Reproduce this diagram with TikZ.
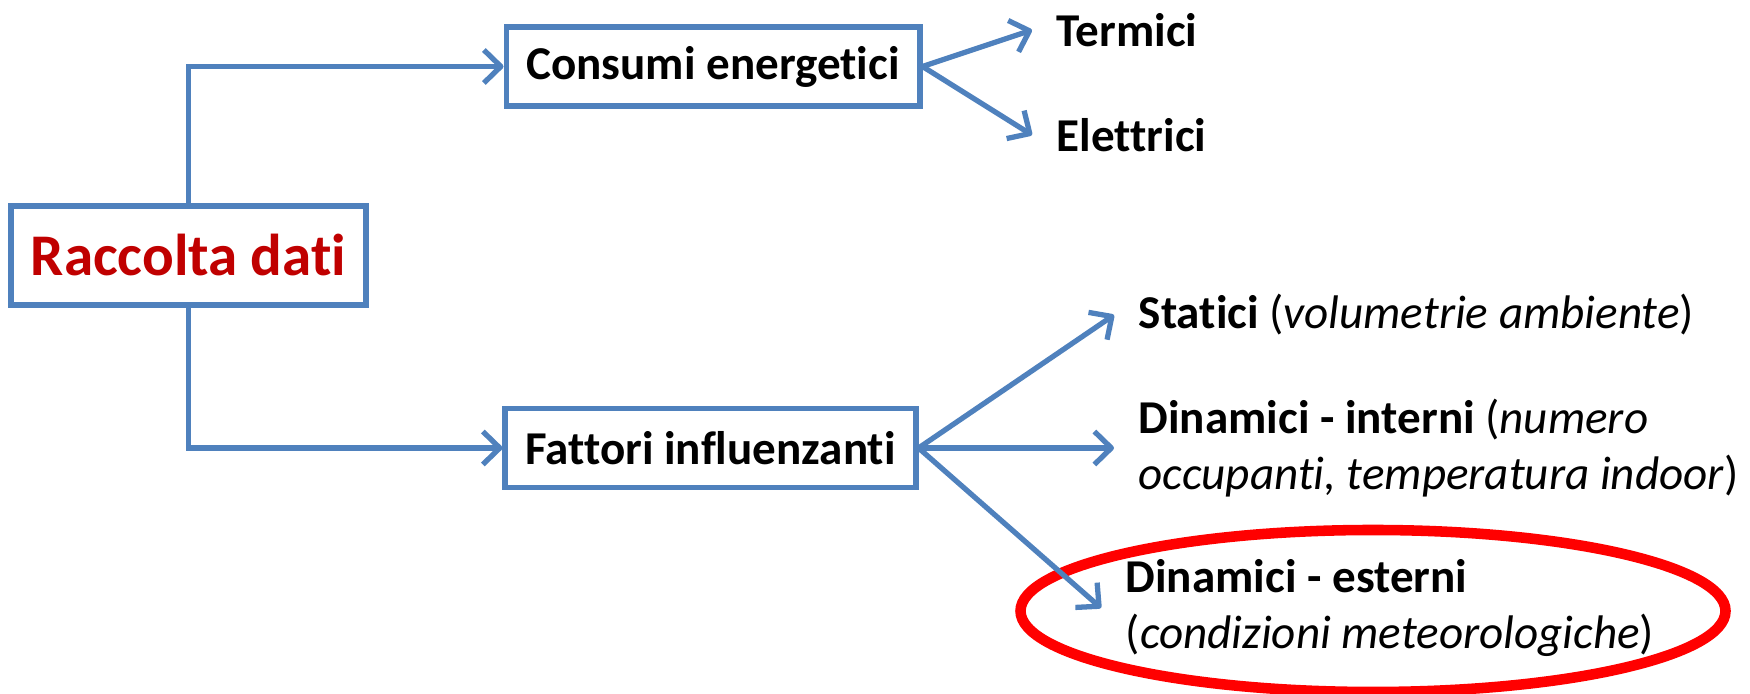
\documentclass[tikz,border=0pt]{standalone}
\usepackage{fontspec}
\setmainfont{Carlito}[Ligatures=NoCommon]
\usepackage{tikz}
\usetikzlibrary{shapes.geometric, arrows.meta, positioning}
\definecolor{linkblue}{RGB}{79,129,189}
\definecolor{titlered}{RGB}{192,0,0}
\definecolor{ringred}{RGB}{255,0,0}

\begin{document}
\begin{tikzpicture}[
    databox/.style={draw=linkblue, line width=1.6pt, fill=white, inner xsep=0.2cm, minimum height=0.99cm, font=\fontsize{16.8}{20}\selectfont\bfseries, text=titlered},
    catbox/.style={draw=linkblue, line width=1.6pt, fill=white, inner xsep=0.2cm, minimum height=0.79cm, font=\fontsize{13.4}{16}\selectfont\bfseries},
    item/.style={anchor=west, inner xsep=0.24cm, align=left, font=\fontsize{13.4}{16}\selectfont},
    link/.style={draw=linkblue, line width=1.5pt},
    arrow/.style={link, -{Straight Barb[length=1.7mm, width=3.3mm, line join=round]}}
]
    \useasboundingbox (0,0) rectangle (17.5,6.94);

    % main boxes
    \node[databox] (racc) at (1.885,4.385) {Raccolta dati};
    \node[catbox] (cons) at (7.13,6.275) {Consumi energetici};
    \node[catbox] (fatt) at (7.105,2.46) {Fattori influenzanti};

    % consumption types
    \node[item, font=\fontsize{13.4}{16}\selectfont\bfseries] (term) at (10.32,6.64) {Termici};
    \node[item, font=\fontsize{13.4}{16}\selectfont\bfseries] (elet) at (10.32,5.59) {Elettrici};

    % factors
    \node[item] (stat) at (11.14,3.79) {\textbf{Statici} (\textit{volumetrie ambiente})};
    \node[item] (dint) at (11.14,2.46) {\textbf{Dinamici - interni} (\textit{numero}\\\textit{occupanti, temperatura indoor})};
    \node[ellipse, draw=ringred, line width=3pt, minimum width=7.05cm, minimum height=1.62cm] (ring) at (13.73,0.83) {};
    \node[item] (dest) at (11.01,0.86) {\textbf{Dinamici - esterni}\\(\textit{condizioni meteorologiche})};

    % connections
    \draw[arrow] (racc.north) |- (cons.west);
    \draw[arrow] (racc.south) |- (fatt.west);

    \draw[arrow] (cons.east) -- (term.west);
    \draw[arrow] (cons.east) -- (elet.west);

    \draw[arrow] (fatt.east) -- (stat.west);
    \draw[arrow] (fatt.east) -- (dint.west);
    \draw[arrow] (fatt.east) -- (dest.west);
\end{tikzpicture}
\end{document}
